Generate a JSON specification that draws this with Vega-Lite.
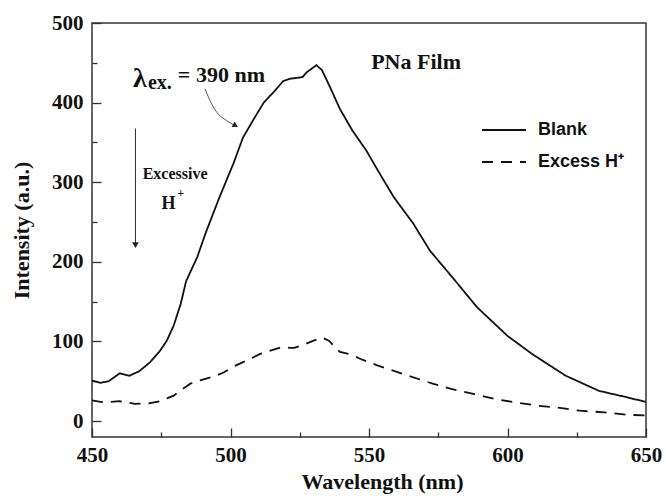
{
  "$schema": "https://vega.github.io/schema/vega-lite/v6.json",
  "width": 554,
  "height": 414,
  "autosize": "none",
  "padding": {"left": 92, "top": 23, "right": 20, "bottom": 59},
  "background": "white",
  "resolve": {"axis": {"x": "independent", "y": "independent"}},
  "config": {
    "view": {"stroke": "#333", "strokeWidth": 1.5},
    "axis": {"domain": false, "grid": false, "labelFlush": false, "labelFont": "Liberation Serif", "labelFontWeight": "bold", "labelFontSize": 21, "labelColor": "#111", "titleFont": "Liberation Serif", "titleFontWeight": "bold", "titleFontSize": 22, "titleColor": "#111", "tickColor": "#333", "tickWidth": 1.3},
    "legend": {"orient": "none", "legendX": 389, "legendY": 84, "labelFont": "Liberation Sans", "labelFontWeight": "bold", "labelFontSize": 18, "labelColor": "#111", "symbolType": "stroke", "symbolSize": 1936, "symbolStrokeWidth": 1.8, "symbolStrokeColor": "#111", "labelOffset": 11, "rowPadding": -9, "padding": 0, "title": null}
  },
  "datasets": {
    "spectra": [
      {"w": 450, "i": 51, "s": "Blank"}, {"w": 453, "i": 48, "s": "Blank"}, {"w": 456, "i": 50, "s": "Blank"}, {"w": 460, "i": 60, "s": "Blank"}, {"w": 463.5, "i": 57, "s": "Blank"}, {"w": 467, "i": 62.5, "s": "Blank"}, {"w": 471, "i": 74, "s": "Blank"}, {"w": 474.5, "i": 88, "s": "Blank"}, {"w": 477, "i": 101, "s": "Blank"}, {"w": 479.5, "i": 120, "s": "Blank"}, {"w": 482, "i": 147, "s": "Blank"}, {"w": 484, "i": 176, "s": "Blank"}, {"w": 488, "i": 206, "s": "Blank"}, {"w": 491, "i": 236, "s": "Blank"}, {"w": 496, "i": 281, "s": "Blank"}, {"w": 501, "i": 323, "s": "Blank"}, {"w": 504.5, "i": 356, "s": "Blank"}, {"w": 508, "i": 377, "s": "Blank"}, {"w": 512, "i": 400, "s": "Blank"}, {"w": 515.5, "i": 413, "s": "Blank"}, {"w": 519, "i": 427, "s": "Blank"}, {"w": 521.5, "i": 430, "s": "Blank"}, {"w": 526, "i": 432, "s": "Blank"}, {"w": 527.5, "i": 438, "s": "Blank"}, {"w": 531, "i": 447, "s": "Blank"}, {"w": 533, "i": 441, "s": "Blank"}, {"w": 536, "i": 419, "s": "Blank"}, {"w": 539.5, "i": 392, "s": "Blank"}, {"w": 544, "i": 365, "s": "Blank"}, {"w": 549, "i": 340, "s": "Blank"}, {"w": 554, "i": 310, "s": "Blank"}, {"w": 559, "i": 281, "s": "Blank"}, {"w": 566, "i": 248, "s": "Blank"}, {"w": 572, "i": 214, "s": "Blank"}, {"w": 580, "i": 181, "s": "Blank"}, {"w": 589, "i": 143, "s": "Blank"}, {"w": 600, "i": 107, "s": "Blank"}, {"w": 609, "i": 84, "s": "Blank"}, {"w": 621, "i": 57, "s": "Blank"}, {"w": 633, "i": 38, "s": "Blank"}, {"w": 643, "i": 30, "s": "Blank"}, {"w": 650, "i": 24, "s": "Blank"},
      {"w": 450, "i": 26, "s": "Excess H⁺"}, {"w": 453, "i": 24, "s": "Excess H⁺"}, {"w": 456.5, "i": 24, "s": "Excess H⁺"}, {"w": 460, "i": 25, "s": "Excess H⁺"}, {"w": 462.5, "i": 23.5, "s": "Excess H⁺"}, {"w": 465.5, "i": 21.5, "s": "Excess H⁺"}, {"w": 471, "i": 22.5, "s": "Excess H⁺"}, {"w": 474.5, "i": 25, "s": "Excess H⁺"}, {"w": 479.5, "i": 32, "s": "Excess H⁺"}, {"w": 483, "i": 41, "s": "Excess H⁺"}, {"w": 485.5, "i": 47, "s": "Excess H⁺"}, {"w": 489, "i": 51, "s": "Excess H⁺"}, {"w": 494, "i": 56, "s": "Excess H⁺"}, {"w": 497.5, "i": 61, "s": "Excess H⁺"}, {"w": 502, "i": 70, "s": "Excess H⁺"}, {"w": 507, "i": 78, "s": "Excess H⁺"}, {"w": 510.5, "i": 84, "s": "Excess H⁺"}, {"w": 514, "i": 88, "s": "Excess H⁺"}, {"w": 518.5, "i": 93, "s": "Excess H⁺"}, {"w": 521.5, "i": 92, "s": "Excess H⁺"}, {"w": 523, "i": 92, "s": "Excess H⁺"}, {"w": 526.5, "i": 96, "s": "Excess H⁺"}, {"w": 530, "i": 101, "s": "Excess H⁺"}, {"w": 533, "i": 105, "s": "Excess H⁺"}, {"w": 535.5, "i": 101, "s": "Excess H⁺"}, {"w": 539.5, "i": 87, "s": "Excess H⁺"}, {"w": 543, "i": 84, "s": "Excess H⁺"}, {"w": 547, "i": 78, "s": "Excess H⁺"}, {"w": 553, "i": 70, "s": "Excess H⁺"}, {"w": 559, "i": 63, "s": "Excess H⁺"}, {"w": 566, "i": 55, "s": "Excess H⁺"}, {"w": 573, "i": 47, "s": "Excess H⁺"}, {"w": 580, "i": 40, "s": "Excess H⁺"}, {"w": 588, "i": 34, "s": "Excess H⁺"}, {"w": 595, "i": 28, "s": "Excess H⁺"}, {"w": 602, "i": 24, "s": "Excess H⁺"}, {"w": 610.5, "i": 19.5, "s": "Excess H⁺"}, {"w": 619, "i": 16.5, "s": "Excess H⁺"}, {"w": 626, "i": 13, "s": "Excess H⁺"}, {"w": 635, "i": 11, "s": "Excess H⁺"}, {"w": 643, "i": 8, "s": "Excess H⁺"}, {"w": 650, "i": 7, "s": "Excess H⁺"}
    ],
    "curveArrow": [
      {"w": 490.8, "i": 417.3}, {"w": 492.6, "i": 402.6}, {"w": 495.0, "i": 388}, {"w": 498.6, "i": 377.5}, {"w": 501.5, "i": 371.5}
    ],
    "curveHead": [{"w": 501.8, "i": 371}],
    "vArrow": [{"w": 465.7, "i": 367.5, "i2": 220}],
    "vHead": [{"w": 465.7, "i": 221}]
  },
  "layer": [
    {
      "data": {"name": "spectra"},
      "mark": {"type": "line", "color": "#111", "strokeWidth": 1.8},
      "encoding": {
        "x": {"field": "w", "type": "quantitative", "scale": {"domain": [450, 650], "nice": false, "zero": false}, "axis": {"orient": "bottom", "title": "Wavelength (nm)", "values": [450, 500, 550, 600, 650], "tickSize": -9, "labelPadding": 16, "titlePadding": 6, "titleX": 290}},
        "y": {"field": "i", "type": "quantitative", "scale": {"domain": [-20, 500], "nice": false, "zero": false}, "axis": {"orient": "left", "title": "Intensity (a.u.)", "values": [0, 100, 200, 300, 400, 500], "tickSize": -9, "labelPadding": 18, "titlePadding": 18}},
        "strokeDash": {"field": "s", "type": "nominal", "scale": {"domain": ["Blank", "Excess H⁺"], "range": [[1, 0], [11, 8]]}, "legend": {}}
      }
    },
    {
      "data": {"name": "vArrow"},
      "mark": {"type": "rule", "color": "#333", "strokeWidth": 1},
      "encoding": {
        "x": {"field": "w", "type": "quantitative", "axis": {"orient": "bottom", "values": [475, 525, 575, 625], "tickSize": -5, "labels": false, "title": null}},
        "y": {"field": "i", "type": "quantitative", "axis": {"orient": "left", "values": [50, 150, 250, 350, 450], "tickSize": -5, "labels": false, "title": null}},
        "y2": {"field": "i2"}
      }
    },
    {
      "data": {"name": "curveArrow"},
      "mark": {"type": "line", "color": "#555", "strokeWidth": 1, "interpolate": "monotone"},
      "encoding": {"x": {"field": "w", "type": "quantitative", "axis": null}, "y": {"field": "i", "type": "quantitative", "axis": null}}
    },
    {
      "data": {"name": "curveHead"},
      "mark": {"type": "point", "shape": "triangle-right", "filled": true, "color": "#222", "size": 40, "angle": 30, "opacity": 1},
      "encoding": {"x": {"field": "w", "type": "quantitative", "axis": null}, "y": {"field": "i", "type": "quantitative", "axis": null}}
    },
    {
      "data": {"name": "vHead"},
      "mark": {"type": "point", "shape": "triangle-down", "filled": true, "color": "#222", "size": 45, "opacity": 1},
      "encoding": {"x": {"field": "w", "type": "quantitative", "axis": null}, "y": {"field": "i", "type": "quantitative", "axis": null}}
    },
    {
      "data": {"values": [{"w": 464.8, "i": 420, "t": "λ"}]},
      "mark": {"type": "text", "align": "left", "baseline": "alphabetic", "font": "Liberation Serif", "fontWeight": "bold", "fontSize": 28, "color": "#111"},
      "encoding": {"x": {"field": "w", "type": "quantitative", "axis": null}, "y": {"field": "i", "type": "quantitative", "axis": null}, "text": {"field": "t"}}
    },
    {
      "data": {"values": [{"w": 470.2, "i": 417.7, "t": "ex."}]},
      "mark": {"type": "text", "align": "left", "baseline": "alphabetic", "font": "Liberation Serif", "fontWeight": "bold", "fontSize": 20, "color": "#111"},
      "encoding": {"x": {"field": "w", "type": "quantitative", "axis": null}, "y": {"field": "i", "type": "quantitative", "axis": null}, "text": {"field": "t"}}
    },
    {
      "data": {"values": [{"w": 481, "i": 425.3, "t": "= 390 nm"}]},
      "mark": {"type": "text", "align": "left", "baseline": "alphabetic", "font": "Liberation Serif", "fontWeight": "bold", "fontSize": 22, "color": "#111"},
      "encoding": {"x": {"field": "w", "type": "quantitative", "axis": null}, "y": {"field": "i", "type": "quantitative", "axis": null}, "text": {"field": "t"}}
    },
    {
      "data": {"values": [{"w": 567, "i": 441.6, "t": "PNa Film"}]},
      "mark": {"type": "text", "align": "center", "baseline": "alphabetic", "font": "Liberation Serif", "fontWeight": "bold", "fontSize": 22, "color": "#111"},
      "encoding": {"x": {"field": "w", "type": "quantitative", "axis": null}, "y": {"field": "i", "type": "quantitative", "axis": null}, "text": {"field": "t"}}
    },
    {
      "data": {"values": [{"w": 480, "i": 304.6, "t": "Excessive"}]},
      "mark": {"type": "text", "align": "center", "baseline": "alphabetic", "font": "Liberation Serif", "fontWeight": "bold", "fontSize": 16, "color": "#111"},
      "encoding": {"x": {"field": "w", "type": "quantitative", "axis": null}, "y": {"field": "i", "type": "quantitative", "axis": null}, "text": {"field": "t"}}
    },
    {
      "data": {"values": [{"w": 477.6, "i": 266.6, "t": "H"}]},
      "mark": {"type": "text", "align": "center", "baseline": "alphabetic", "font": "Liberation Serif", "fontWeight": "bold", "fontSize": 18, "color": "#111"},
      "encoding": {"x": {"field": "w", "type": "quantitative", "axis": null}, "y": {"field": "i", "type": "quantitative", "axis": null}, "text": {"field": "t"}}
    },
    {
      "data": {"values": [{"w": 482, "i": 281, "t": "+"}]},
      "mark": {"type": "text", "align": "center", "baseline": "alphabetic", "font": "Liberation Serif", "fontWeight": "bold", "fontSize": 12, "color": "#111"},
      "encoding": {"x": {"field": "w", "type": "quantitative", "axis": null}, "y": {"field": "i", "type": "quantitative", "axis": null}, "text": {"field": "t"}}
    }
  ]
}
